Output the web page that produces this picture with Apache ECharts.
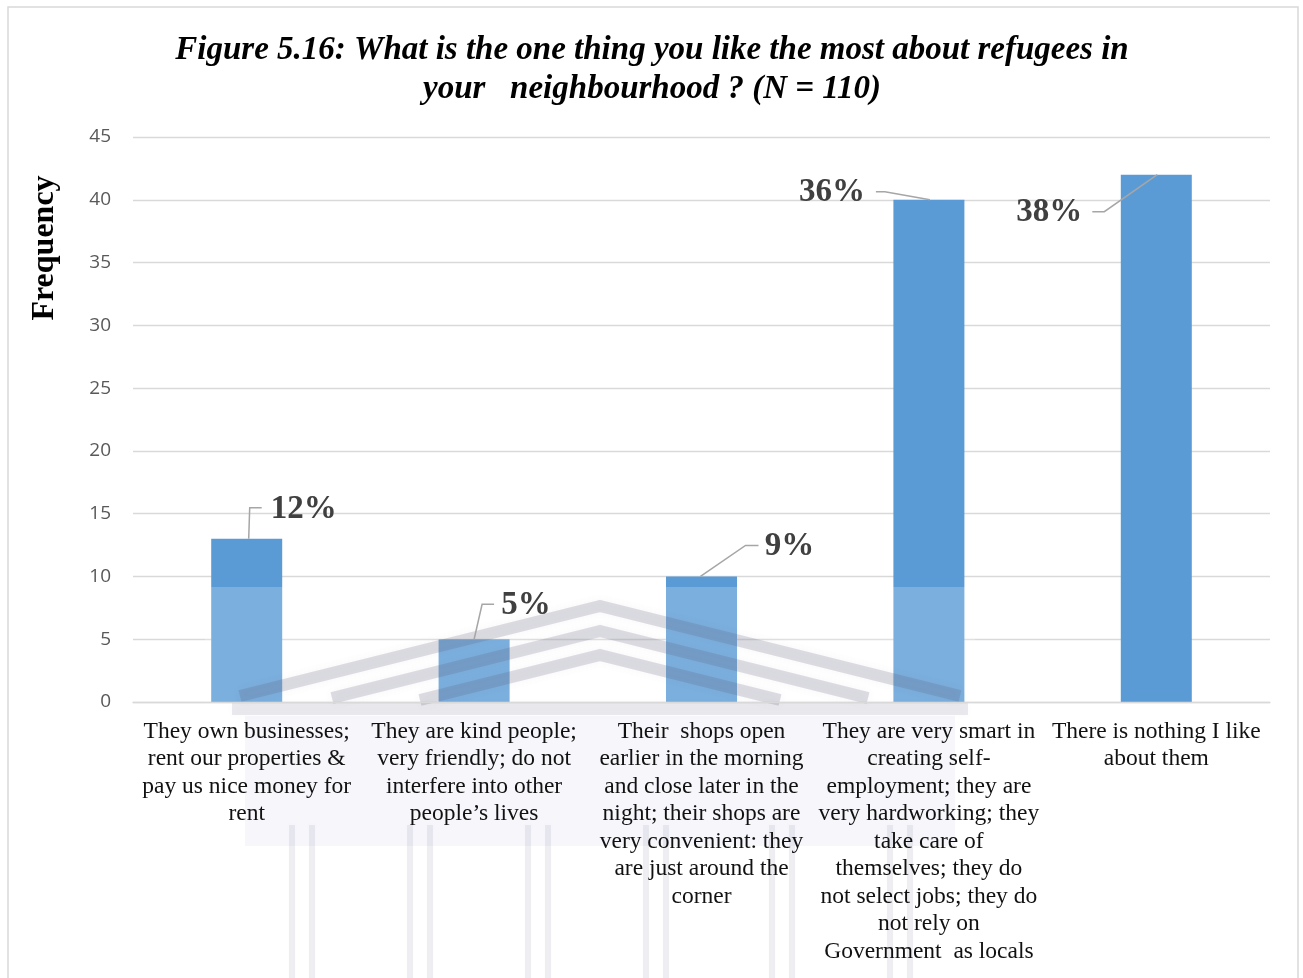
<!DOCTYPE html>
<html>
<head>
<meta charset="utf-8">
<title>Figure 5.16</title>
<script src="https://cdn.jsdelivr.net/npm/echarts@6/dist/echarts.min.js"></script>
<style>
  html, body { margin: 0; padding: 0; background: #ffffff; }
  #chart { width: 1303px; height: 978px; }
</style>
</head>
<body>
<div id="chart"></div>
<script>
// Survey answers: what respondents like most about refugees in the neighbourhood
const TITLE_LINES = [
  'Figure 5.16: What is the one thing you like the most about refugees in',
  'your   neighbourhood ? (N = 110)'
];
const CATEGORIES = [
  'They own businesses;\nrent our properties &\npay us nice money for\nrent',
  'They are kind people;\nvery friendly; do not\ninterfere into other\npeople\u2019s lives',
  'Their  shops open\nearlier in the morning\nand close later in the\nnight; their shops are\nvery convenient: they\nare just around the\ncorner',
  'They are very smart in\ncreating self-\nemployment; they are\nvery hardworking; they\ntake care of\nthemselves; they do\nnot select jobs; they do\nnot rely on\nGovernment  as locals',
  'There is nothing I like\nabout them'
];
const FREQUENCY = [13, 5, 10, 40, 42];
const PERCENT_LABELS = ['12%', '5%', '9%', '36%', '38%'];
const Y_TICKS = { min: 0, max: 45, interval: 5 };

// Leader-line layout for each percentage label, in pixels relative to the bar top centre
const LEADER_LAYOUT = [
  { line: [[2, 0], [3, -31], [15, -31]], text: [57, -29] },
  { line: [[0, 0], [8, -35], [20, -35]], text: [52, -34] },
  { line: [[-1, 0], [44, -31], [57, -31]], text: [88, -30] },
  { line: [[1, 0], [-44, -8], [-53, -8]], text: [-97, -7] },
  { line: [[1, 0], [-52, 37], [-64, 37]], text: [-107, 38] }
];

const chart = echarts.init(document.getElementById('chart'), null, { renderer: 'canvas' });

// Faint building emblem printed behind the chart area
const emblemColor = 'rgba(90, 90, 120, 0.2)';
function pediment(apexY, endY, width) {
  const apexX = 600, slope = 0.25;
  const half = (endY - apexY) / slope;
  return {
    type: 'polyline', z: 5, silent: true,
    shape: { points: [[apexX - half, endY], [apexX, apexY], [apexX + half, endY]] },
    style: {
      stroke: emblemColor, lineWidth: width, fill: null, lineJoin: 'round',
      shadowBlur: 8, shadowColor: 'rgba(90, 90, 120, 0.25)'
    }
  };
}
const columnXs = [292, 312, 410, 430, 528, 548, 646, 666, 772, 792, 890, 910];
const emblem = [
  { type: 'rect', z: 4, silent: true, shape: { x: 205, y: 587, width: 770, height: 400 },
    style: { fill: 'rgba(255,255,255,0.2)' } },
  pediment(606, 696, 12),
  pediment(631, 698, 12),
  pediment(655, 700, 12),
  { type: 'rect', z: 5, silent: true, shape: { x: 232, y: 703, width: 736, height: 12 },
    style: { fill: 'rgba(120,120,150,0.15)', shadowBlur: 6, shadowColor: 'rgba(120,120,150,0.2)' } },
  { type: 'rect', z: 5, silent: true, shape: { x: 245, y: 716, width: 710, height: 130 },
    style: { fill: 'rgba(175,175,215,0.11)' } }
].concat(columnXs.map(x => ({
  type: 'rect', z: 5, silent: true, shape: { x: x - 3, y: 825, width: 6, height: 160 },
  style: { fill: 'rgba(150,150,180,0.14)', shadowBlur: 4, shadowColor: 'rgba(150,150,180,0.2)' }
})));

const option = {
  backgroundColor: '#ffffff',
  animation: false,
  grid: { left: 133, right: 33, top: 137, bottom: 276, containLabel: false },
  xAxis: {
    type: 'category',
    data: CATEGORIES,
    z: 10,
    axisTick: { show: false },
    axisLine: { lineStyle: { color: '#d9d9d9', width: 1.3 } },
    axisLabel: {
      interval: 0,
      margin: 16,
      fontFamily: '"Liberation Serif", "Times New Roman", serif',
      fontSize: 23.5,
      lineHeight: 27.5,
      color: '#111111',
      align: 'center',
      verticalAlign: 'top'
    }
  },
  yAxis: {
    type: 'value',
    min: Y_TICKS.min,
    max: Y_TICKS.max,
    interval: Y_TICKS.interval,
    axisLine: { show: false },
    axisTick: { show: false },
    axisLabel: {
      margin: 22,
      fontFamily: '"Open Sans", sans-serif',
      fontSize: 19,
      color: '#595959'
    },
    splitLine: { lineStyle: { color: '#d9d9d9', width: 1.3 } }
  },
  graphic: [
    { type: 'rect', z: 0, silent: true, shape: { x: 8, y: 7, width: 1290, height: 1010 },
      style: { fill: null, stroke: '#d9d9d9', lineWidth: 1.5 } },
    { type: 'text', z: 10, silent: true, x: 652, y: 70,
      style: {
        text: TITLE_LINES.join('\n'), fill: '#000000',
        font: 'italic bold 33px "Liberation Serif", "Times New Roman", serif',
        lineHeight: 39, align: 'center', verticalAlign: 'middle'
      } },
    { type: 'text', z: 10, silent: true, x: 45, y: 248, rotation: Math.PI / 2,
      style: {
        text: 'Frequency', fill: '#000000',
        font: 'bold 32px "Liberation Serif", "Times New Roman", serif',
        align: 'center', verticalAlign: 'middle'
      } }
  ].concat(emblem),
  series: [
    {
      type: 'bar',
      data: FREQUENCY,
      barWidth: 71,
      z: 2,
      itemStyle: { color: '#5b9bd5' }
    },
    {
      // percentage call-outs with leader lines, anchored on each bar top
      type: 'custom',
      z: 12,
      data: FREQUENCY.map((v, i) => [i, v]),
      encode: { x: 0, y: 1 },
      renderItem: function (params, api) {
        const i = params.dataIndex;
        const top = api.coord([api.value(0), api.value(1)]);
        const lay = LEADER_LAYOUT[i];
        return {
          type: 'group',
          children: [
            {
              type: 'polyline',
              shape: { points: lay.line.map(p => [top[0] + p[0], top[1] + p[1]]) },
              style: { stroke: '#a6a6a6', lineWidth: 1.5, fill: null }
            },
            {
              type: 'text',
              x: top[0] + lay.text[0],
              y: top[1] + lay.text[1],
              style: {
                text: PERCENT_LABELS[i],
                fill: '#404040',
                font: 'bold 33px "Liberation Serif", "Times New Roman", serif',
                align: 'center',
                verticalAlign: 'middle'
              }
            }
          ]
        };
      }
    }
  ]
};

chart.setOption(option);
</script>
</body>
</html>
